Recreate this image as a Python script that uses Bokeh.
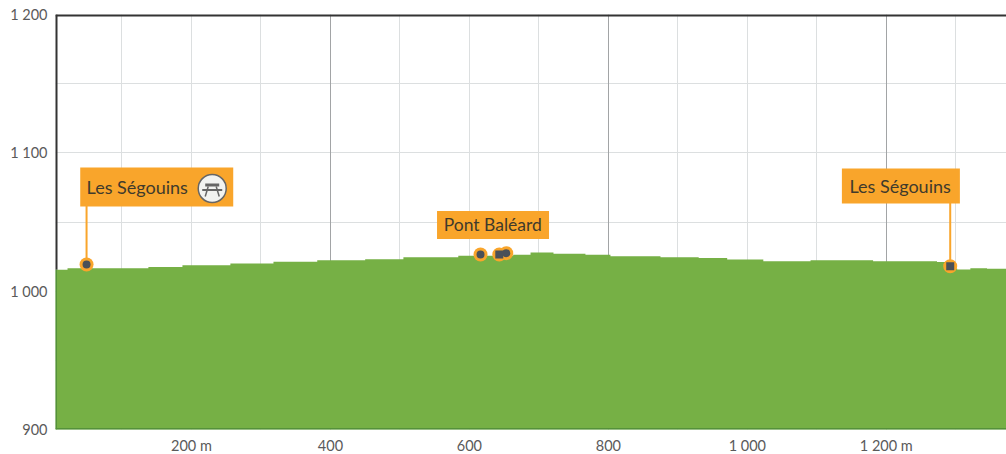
from bokeh.core.properties import value
from bokeh.embed import file_html
from bokeh.models import ColumnDataSource, FixedTicker, Grid
from bokeh.plotting import figure
from bokeh.resources import INLINE

# --- data ---
profile_dist = [4.3, 21.6, 138, 187, 256, 318, 381, 450, 505, 584, 663, 688, 721, 767,
                803, 875, 930, 971, 1023, 1091, 1181, 1273, 1288, 1302, 1321, 1345, 1373]
profile_elev = [1015.5, 1016.6, 1017.4, 1018.8, 1020.0, 1021.3, 1022.4, 1023.1, 1024.6,
                1025.6, 1026.3, 1028.0, 1027.0, 1026.3, 1025.3, 1024.6, 1023.9, 1022.9,
                1021.7, 1022.4, 1021.7, 1021.0, 1016.4, 1015.7, 1016.6, 1016.2, 1015.0]
poi_dist = [653, 49, 616, 643, 1292]
poi_elev = [1027.5, 1019.3, 1026.5, 1026.5, 1018.0]
poi_inner = ["circle", "circle", "circle", "square", "square"]
callout_names = ["Les Ségouins", "Pont Baléard", "Les Ségouins"]
x_ticks = [200, 400, 600, 800, 1000, 1200]
x_tick_labels = ["200 m", "400", "600", "800", "1 000", "1 200 m"]
y_ticks = [900, 1000, 1100, 1200]
y_tick_labels = ["900", "1 000", "1 100", "1 200"]
x_grid_light = [100, 200, 300, 500, 600, 700, 900, 1000, 1100, 1300]
x_grid_dark = [400, 800, 1200]
y_grid = [950, 1000, 1050, 1100, 1150]

# --- layout and style ---
X0, X1, Y0, Y1 = 4.3, 1373.0, 900.0, 1200.0
PX_X, PX_Y = 0.695, 1.383
FONT = value("Lato")
ORANGE, GREEN, DARK_GREEN = "#f9a52b", "#76b045", "#55913a"
INK = "#3f3a2c"
AXIS_INK = "#5a5a5a"

p = figure(width=1006, height=454, frame_width=951, frame_height=415,
           x_range=(X0, X1), y_range=(Y0, Y1),
           output_backend="svg", toolbar_location=None,
           min_border_left=55, min_border_right=0, min_border_top=14, min_border_bottom=25)
p.outline_line_color = None
p.background_fill_color = "#ffffff"

for ax, ticks, tick_labels in ((p.xaxis[0], x_ticks, x_tick_labels), (p.yaxis[0], y_ticks, y_tick_labels)):
    ax.ticker = FixedTicker(ticks=ticks)
    ax.major_label_overrides = dict(zip(ticks, tick_labels))
    ax.major_tick_line_color = None
    ax.major_tick_out = 0
    ax.major_tick_in = 0
    ax.minor_tick_line_color = None
    ax.minor_tick_out = 0
    ax.axis_line_color = None
    ax.major_label_text_font = "Lato"
    ax.major_label_text_font_size = "14.5px"
    ax.major_label_text_color = AXIS_INK
p.xaxis[0].major_label_standoff = 7
p.yaxis[0].major_label_standoff = 8

p.xgrid[0].ticker = FixedTicker(ticks=x_grid_light)
p.xgrid[0].grid_line_color = "#dcdfe0"
p.xgrid[0].grid_line_width = 1
p.ygrid[0].ticker = FixedTicker(ticks=y_grid)
p.ygrid[0].grid_line_color = "#dcdfe0"
p.ygrid[0].grid_line_width = 1
p.add_layout(Grid(dimension=0, ticker=FixedTicker(ticks=x_grid_dark),
                  grid_line_color="#a2a4a6", grid_line_width=1))

# terrain
terrain = ColumnDataSource(dict(x=profile_dist, y1=[Y0] * len(profile_dist), y2=profile_elev))
p.varea_step(x="x", y1="y1", y2="y2", step_mode="after", source=terrain, fill_color=GREEN)

# frame (these lines are clipped at the plot edge, so half their width shows)
p.segment([X0, X0], [Y1, profile_elev[0]], [X1, X0], [Y1, Y1], line_color="#333333", line_width=4)
p.segment([X0, X0], [Y0, Y0], [X1, X0], [Y0, profile_elev[0]], line_color=DARK_GREEN, line_width=3)

# callouts (boxes sit at fixed places relative to their point)
box_cx = [150, 634, 1221]
box_cy = [1075.3, 1047.9, 1076.0]
box_w = [153, 112, 118]
box_h = [39, 28, 35]
text_x = [49, 563, 1147]
text_px = ["18px", "17.5px", "18px"]

stem_poi = [1, 4]
stem_box = [0, 2]
p.segment([poi_dist[i] for i in stem_poi], [poi_elev[i] for i in stem_poi],
          [poi_dist[i] for i in stem_poi], [box_cy[i] for i in stem_box],
          line_color=ORANGE, line_width=2)
p.rect(box_cx, box_cy, width=box_w, height=box_h, width_units="screen", height_units="screen",
       fill_color=ORANGE, line_color=None)
labels = ColumnDataSource(dict(x=text_x, y=box_cy, t=callout_names, s=text_px))
p.text("x", "y", text="t", source=labels, text_font=FONT, text_font_size="s",
       text_color=INK, text_baseline="middle", text_align="left")

# picnic icon in the first box
icon_x = box_cx[0] + 55.5 / PX_X
icon_y = box_cy[0] - 1.5 / PX_Y
p.scatter([icon_x], [icon_y], marker="circle", size=28, fill_color="#f2f3f1",
          line_color="#666666", line_width=1.5)
p.rect([icon_x, icon_x], [icon_y + 3.5 / PX_Y, icon_y - 1.5 / PX_Y], width=[14, 20], height=[3, 2],
       width_units="screen", height_units="screen", fill_color="#666666", line_color=None)
p.segment([icon_x - 4 / PX_X, icon_x + 4 / PX_X], [icon_y + 2 / PX_Y] * 2,
          [icon_x - 7 / PX_X, icon_x + 7 / PX_X], [icon_y - 8 / PX_Y] * 2,
          line_color="#666666", line_width=1.5)

# points
p.scatter(poi_dist, poi_elev, marker="circle", size=14, fill_color=ORANGE, line_color=None)
pts = ColumnDataSource(dict(x=poi_dist, y=poi_elev, m=poi_inner))
p.scatter("x", "y", marker="m", size=8, source=pts, fill_color="#4a5058", line_color=None)

open("out.html", "w").write(file_html(p, INLINE))
